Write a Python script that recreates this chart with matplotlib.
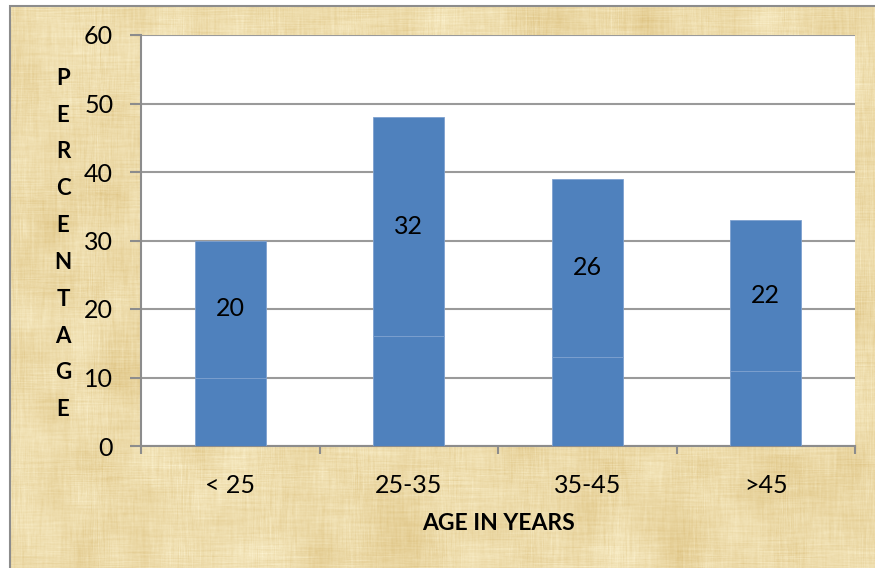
import numpy as np
import matplotlib.pyplot as plt
from matplotlib.patches import Rectangle

# Survey data: share of respondents per age group
age_groups = ["< 25", "25-35", "35-45", ">45"]
lower_part = [10, 16, 13, 11]
upper_part = [20, 32, 26, 22]

plt.rcParams['font.family'] = ['Lato', 'DejaVu Sans']

fig = plt.figure(figsize=(8.75, 5.68), dpi=100)


def smooth(a, n, axis):
    k = np.ones(n) / n
    return np.apply_along_axis(lambda r: np.convolve(r, k, mode='same'), axis, a)


# parchment-style backdrop inside the chart frame
rng = np.random.default_rng(7)
h, w = 568, 875
fibres_h = smooth(rng.normal(0, 1, (h, w)), 31, 1)
fibres_v = smooth(rng.normal(0, 1, (h, w)), 21, 0)
blotch = np.kron(rng.normal(0, 1, (h // 30 + 2, w // 30 + 2)), np.ones((30, 30)))[:h, :w]
blotch = smooth(smooth(blotch, 31, 1), 31, 0)
shade = 1.2 * fibres_h + 1.0 * fibres_v + 0.4 * blotch
base = np.array([237, 219, 170]) / 255.0
tone = np.array([0.035, 0.055, 0.09])
tex = np.clip(base[None, None, :] + shade[:, :, None] * tone[None, None, :], 0, 1)

x0 = 10 / 875
y1 = 1 - 6 / 568
bg = fig.add_axes([x0, 0, 1 - x0, y1])
bg.imshow(tex, aspect='auto', interpolation='bilinear')
bg.axis('off')
fig.patches.append(Rectangle((x0, -0.05), 1.1, y1 + 0.05, transform=fig.transFigure,
                             fill=False, edgecolor='#8C8C8C', linewidth=1.5))

ax = fig.add_axes([141 / 875, 1 - 446 / 568, (855 - 141) / 875, (446 - 35) / 568])
ax.set_facecolor('white')

x = np.arange(len(age_groups))
ax.bar(x, lower_part, width=0.4, color='#4F81BD', edgecolor='#7EA1CF', linewidth=0.6, zorder=3)
bars = ax.bar(x, upper_part, width=0.4, bottom=lower_part, color='#4F81BD',
              edgecolor='#7EA1CF', linewidth=0.6, zorder=3)
ax.bar_label(bars, labels=[str(v) for v in upper_part], label_type='center', fontsize=18, color='black')

ax.set_xlim(-0.5, len(age_groups) - 0.5)
ax.set_ylim(0, 60)
ax.set_yticks(range(0, 61, 10))
ax.yaxis.grid(True, color='#9A9A9A', linewidth=1.5)
ax.set_axisbelow(True)

ax.set_xticks(x)
ax.set_xticklabels(age_groups)
ax.set_xticks(np.arange(-0.5, len(age_groups)), minor=True)
ax.tick_params(axis='x', which='major', length=0, pad=20, labelsize=18)
ax.tick_params(axis='x', which='minor', length=6, width=1.5, color='#8C8C8C')
ax.tick_params(axis='y', length=8, width=1.5, color='#8C8C8C', labelsize=18, pad=12)

for side in ['top', 'right']:
    ax.spines[side].set_visible(False)
for side in ['left', 'bottom']:
    ax.spines[side].set_color('#8C8C8C')
    ax.spines[side].set_linewidth(1.5)

ax.set_xlabel("AGE IN YEARS", fontsize=16.5, fontweight='bold', labelpad=12)

# vertical stacked letters for the y axis title
fig.text(63 / 875, 1 - 244 / 568, "\n".join("PERCENTAGE"), ha='center', va='center',
         fontsize=16, fontweight='bold', linespacing=1.93)

fig.savefig("out.png", dpi=100)
